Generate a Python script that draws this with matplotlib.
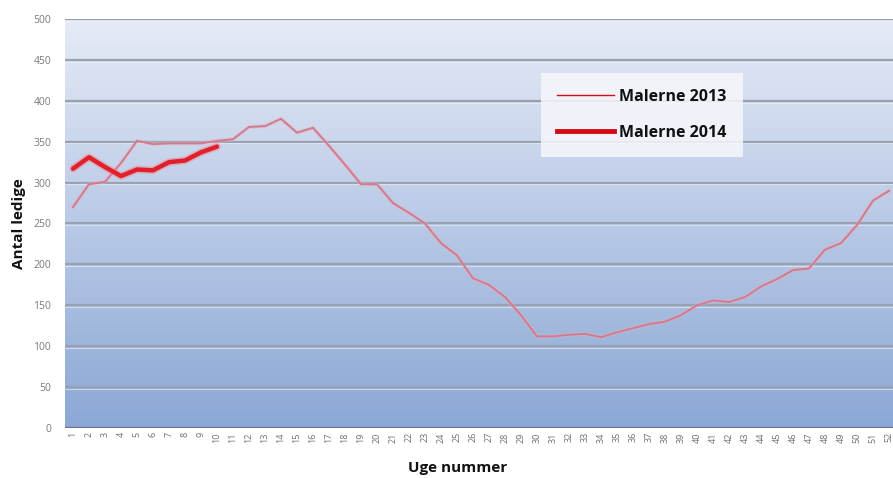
import numpy as np
import matplotlib
matplotlib.use("Agg")
import matplotlib.pyplot as plt
from matplotlib.lines import Line2D
from matplotlib.colors import LinearSegmentedColormap

weeks_2013 = list(range(1, 53))
values_2013 = [270, 298, 301, 324, 351, 347, 348, 348, 348, 351, 353, 368,
               369, 378, 361, 367, 345, 322, 298, 298, 275, 263, 250, 226,
               211, 183, 175, 160, 138, 112, 112, 114, 115, 111, 117, 122,
               127, 130, 138, 150, 156, 154, 160, 173, 182, 193, 195, 218,
               226, 248, 278, 290]
weeks_2014 = list(range(1, 11))
values_2014 = [317, 331, 319, 308, 316, 315, 325, 327, 337, 344]
week_labels = [str(w) for w in range(1, 54)]
y_ticks = list(range(0, 501, 50))
series_names = ["Malerne 2013", "Malerne 2014"]

plt.rcParams['font.family'] = ['Open Sans', 'DejaVu Sans']

fig = plt.figure(figsize=(8.93, 4.78), dpi=100)
ax = fig.add_axes([65/893, 50/478, 828/893, 409/478])

# background gradient
cmap = LinearSegmentedColormap.from_list("bg", ["#8ba8d5", "#b9c9e6", "#e6ebf6"])
grad = np.linspace(0, 1, 256).reshape(-1, 1)
ax.imshow(grad, extent=(0, 1, 0, 1), transform=ax.transAxes, aspect='auto',
          cmap=cmap, origin='lower', zorder=0)

ax.set_yticks(y_ticks)
ax.set_yticklabels([str(v) for v in y_ticks], fontsize=7.5, color="#7a7a7a")
ax.set_xticks(range(1, 54))
ax.set_xticklabels(week_labels, rotation=90, fontsize=6.5, color="#6e6e6e")
ax.set_xlim(0.5, 52.25)
ax.set_ylim(0, 500)

for v in y_ticks[1:]:
    ax.axhline(v, color="#98a1af", lw=1.6, zorder=1)
    ax.axhline(v - 2.2, color="#eef2fa", lw=0.8, alpha=0.6, zorder=1)
ax.axhline(0, color="#6f6a9c", lw=1.6, zorder=2)

# 2013 line with soft glow
ax.plot(weeks_2013, values_2013, color="#eab0bd", lw=3.0, alpha=0.4, zorder=3,
        solid_joinstyle='round')
ax.plot(weeks_2013, values_2013, color="#d27a8e", lw=1.4, zorder=4,
        solid_joinstyle='round')
# 2014 line
ax.plot(weeks_2014, values_2014, color="#f08a90", lw=5.5, alpha=0.5, zorder=5,
        solid_joinstyle='round', solid_capstyle='round')
ax.plot(weeks_2014, values_2014, color="#e0202c", lw=3.2, zorder=6,
        solid_joinstyle='round', solid_capstyle='round')

for s in ax.spines.values():
    s.set_visible(False)

ax.tick_params(axis='both', length=0)
ax.tick_params(axis='y', pad=10)
ax.tick_params(axis='x', pad=3)

ax.set_ylabel("Antal ledige", fontsize=11, fontweight='bold', color="#111111")
ax.yaxis.set_label_coords(-39/828, 0.5)
ax.set_xlabel("Uge nummer", fontsize=11, fontweight='bold', color="#111111")
ax.xaxis.set_label_coords((458 - 65)/828, -33/409)

handles = [Line2D([], [], color="#d40a14", lw=1.0),
           Line2D([], [], color="#d40a14", lw=3.5)]
leg = ax.legend(handles, series_names, loc='upper left',
                bbox_to_anchor=((541 - 65)/828, (428 - 73)/409),
                frameon=True, fancybox=False, framealpha=0.85,
                prop={'weight': 'bold', 'size': 11.5},
                handlelength=3.6, handletextpad=0.3, labelspacing=1.25,
                borderpad=1.0, borderaxespad=0)
leg.get_frame().set_facecolor("#f6f7fb")
leg.get_frame().set_edgecolor("none")
for t in leg.get_texts():
    t.set_color("#111111")
leg.set_zorder(10)

fig.savefig("out.png", dpi=100, facecolor="white")
